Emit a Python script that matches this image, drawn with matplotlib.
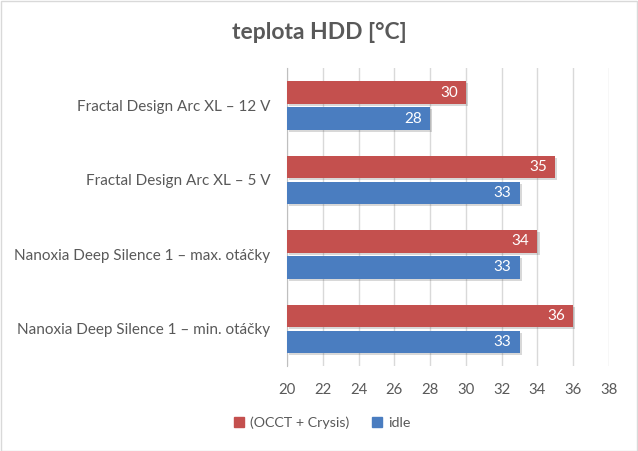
import matplotlib
matplotlib.use("Agg")
import matplotlib.pyplot as plt
import matplotlib.patheffects as pe
from matplotlib.patches import Patch
import numpy as np

categories = ["Nanoxia Deep Silence 1 – min. otáčky",
              "Nanoxia Deep Silence 1 – max. otáčky",
              "Fractal Design Arc XL – 5 V",
              "Fractal Design Arc XL – 12 V"]
load_vals = [36, 34, 35, 30]
idle_vals = [33, 33, 33, 28]
series_names = ["(OCCT + Crysis)", "idle"]
xticks = [20, 22, 24, 26, 28, 30, 32, 34, 36, 38]

plt.rcParams['font.family'] = ['Lato', 'DejaVu Sans']
txt = '#595959'
red = '#c4504e'
blue = '#4a7dc0'

fig = plt.figure(figsize=(6.38, 4.51), dpi=100)
fig.patch.set_facecolor('white')
ax = fig.add_axes([0.45, 0.1885, 0.5045, 0.66])

y = np.arange(len(categories))
h = 0.3
off = 0.175
b1 = ax.barh(y + off, [v - 20 for v in load_vals], left=20, height=h, color=red,
             zorder=3)
b2 = ax.barh(y - off, [v - 20 for v in idle_vals], left=20, height=h, color=blue,
             zorder=3)
for b in list(b1) + list(b2):
    b.set_path_effects([pe.SimplePatchShadow(offset=(1.5, -1.5), alpha=0.2,
                                             shadow_rgbFace='#404040'),
                        pe.Normal()])

for yi, v in zip(y, load_vals):
    ax.text(v - 0.45, yi + off, str(v), color='white', ha='right', va='center',
            fontsize=11, zorder=4)
for yi, v in zip(y, idle_vals):
    ax.text(v - 0.45, yi - off, str(v), color='white', ha='right', va='center',
            fontsize=11, zorder=4)

ax.set_xlim(20, 38)
ax.set_ylim(-0.5, len(categories) - 0.5)
ax.set_xticks(xticks)
ax.set_yticks(y)
ax.set_yticklabels(categories, fontsize=11.0)
ax.grid(axis='x', color='#d9d9d9', linewidth=1, zorder=0)
ax.set_axisbelow(True)
for s in ['top', 'right', 'bottom']:
    ax.spines[s].set_visible(False)
ax.spines['left'].set_color('#bfbfbf')
ax.tick_params(axis='x', length=0, labelsize=10.7, labelcolor=txt, pad=12)
ax.tick_params(axis='y', length=0, labelcolor=txt, pad=12)

fig.text(0.5, 0.927, "teplota HDD [°C]", ha='center', va='center', fontsize=16.5,
         fontweight='bold', color=txt)

handles = [Patch(color=red), Patch(color=blue)]
leg = fig.legend(handles=handles, labels=series_names, loc='center',
                 bbox_to_anchor=(0.505, 0.062), ncol=2, frameon=False,
                 fontsize=10.3, handlelength=0.7, handleheight=0.7,
                 handletextpad=0.4, columnspacing=1.6)
for t in leg.get_texts():
    t.set_color(txt)

border = plt.Rectangle((0.001, 0.001), 0.997, 0.997, transform=fig.transFigure,
                       fill=False, edgecolor='#d9d9d9', linewidth=1)
fig.patches.append(border)

fig.savefig("out.png", dpi=100)
